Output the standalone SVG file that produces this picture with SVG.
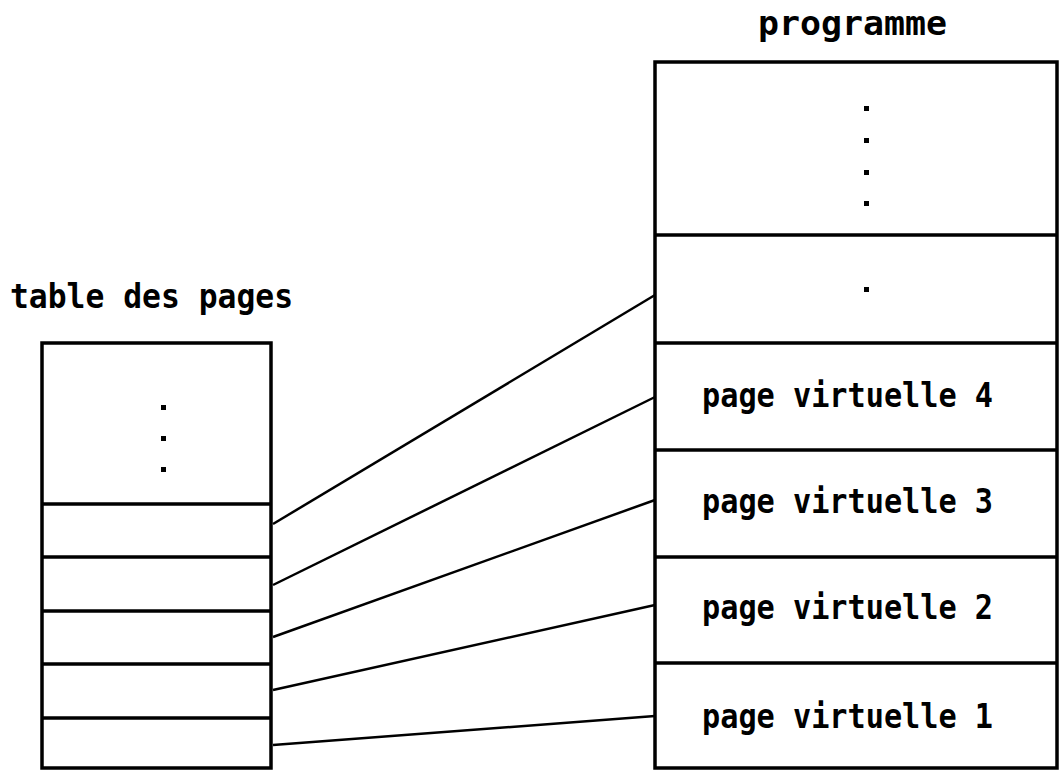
<svg xmlns="http://www.w3.org/2000/svg" width="1061" height="770" viewBox="0 0 1061 770">
<style>
.box{fill:#fff;stroke:#000;stroke-width:3.5}
.div{stroke:#000;stroke-width:3.5}
.lbl{font-family:"DejaVu Sans Mono","Liberation Mono",monospace;font-weight:bold;font-size:34px;fill:#000}
.dot{fill:#000}
.conn{stroke:#000;stroke-width:2.5;fill:none}
</style>
<rect width="1061" height="770" fill="#fff"/>
<text class="lbl" x="10" y="308" textLength="283" lengthAdjust="spacingAndGlyphs">table des pages</text>
<text class="lbl" x="758" y="35" textLength="189" lengthAdjust="spacingAndGlyphs">programme</text>
<g id="table">
<rect class="box" x="42" y="343" width="229" height="425"/>
<line class="div" x1="42" y1="504" x2="271" y2="504"/>
<line class="div" x1="42" y1="557" x2="271" y2="557"/>
<line class="div" x1="42" y1="611" x2="271" y2="611"/>
<line class="div" x1="42" y1="664" x2="271" y2="664"/>
<line class="div" x1="42" y1="718" x2="271" y2="718"/>
<rect class="dot" x="161" y="405" width="5" height="5"/>
<rect class="dot" x="161" y="436" width="5" height="5"/>
<rect class="dot" x="161" y="467" width="5" height="5"/>
</g>
<g id="programme">
<rect class="box" x="655" y="62" width="402" height="706"/>
<line class="div" x1="655" y1="235" x2="1057" y2="235"/>
<line class="div" x1="655" y1="343" x2="1057" y2="343"/>
<line class="div" x1="655" y1="450" x2="1057" y2="450"/>
<line class="div" x1="655" y1="557" x2="1057" y2="557"/>
<line class="div" x1="655" y1="663" x2="1057" y2="663"/>
<rect class="dot" x="864" y="106" width="5" height="5"/>
<rect class="dot" x="864" y="138" width="5" height="5"/>
<rect class="dot" x="864" y="170" width="5" height="5"/>
<rect class="dot" x="864" y="201" width="5" height="5"/>
<rect class="dot" x="864" y="287" width="5" height="5"/>
</g>
<g id="vp4"><text class="lbl" x="702" y="407" textLength="291" lengthAdjust="spacingAndGlyphs">page virtuelle 4</text></g>
<g id="vp3"><text class="lbl" x="702" y="513" textLength="291" lengthAdjust="spacingAndGlyphs">page virtuelle 3</text></g>
<g id="vp2"><text class="lbl" x="702" y="619" textLength="291" lengthAdjust="spacingAndGlyphs">page virtuelle 2</text></g>
<g id="vp1"><text class="lbl" x="702" y="728" textLength="291" lengthAdjust="spacingAndGlyphs">page virtuelle 1</text></g>
<g id="connectors">
<line class="conn" x1="273" y1="524" x2="655" y2="295"/>
<line class="conn" x1="273" y1="585" x2="655" y2="397"/>
<line class="conn" x1="273" y1="637" x2="655" y2="500"/>
<line class="conn" x1="273" y1="690" x2="655" y2="605"/>
<line class="conn" x1="273" y1="745" x2="655" y2="716"/>
</g>
</svg>
